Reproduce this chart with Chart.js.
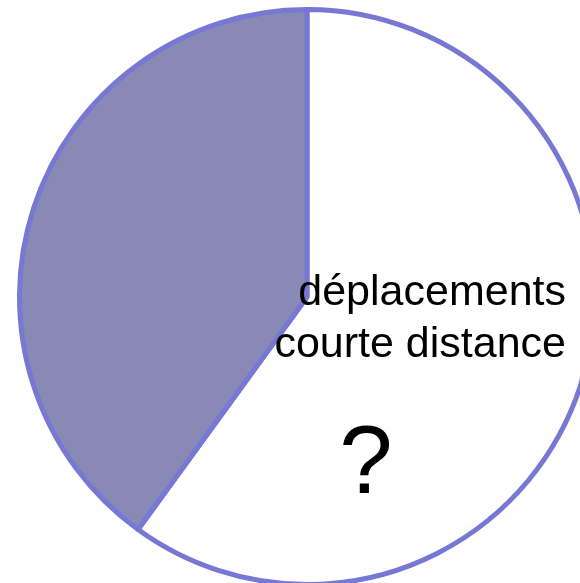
<!DOCTYPE html>
<html>
<head>
<meta charset="utf-8">
<script src="https://cdn.jsdelivr.net/npm/chart.js@4"></script>
<style>
    html, body { margin: 0; padding: 0; background: #ffffff; overflow: hidden; }
    #wrap { position: absolute; left: 0; top: 0; width: 614px; height: 594px; }
</style>
</head>
<body>
<div id="wrap"><canvas id="pieChart"></canvas></div>
<script>
// data
const categories = ['déplacements courte distance', ''];
const shares = [60, 40];
const labelLines = ['déplacements', 'courte distance'];
const valueText = '?';

const sliceColors = ['#ffffff', '#8889b4'];
const edgeColor = '#7777d4';

// text inside the white slice, placed from the arc centre
const sliceText = {
    id: 'sliceText',
    afterDraw(chart) {
        const arc = chart.getDatasetMeta(0).data[0];
        if (!arc) return;
        const ctx = chart.ctx;
        ctx.save();
        ctx.fillStyle = '#000000';
        ctx.textBaseline = 'alphabetic';
        ctx.font = '43px "Liberation Sans", Arial, sans-serif';
        ctx.textAlign = 'right';
        ctx.fillText(labelLines[0], arc.x + 259, arc.y + 8);
        ctx.fillText(labelLines[1], arc.x + 259, arc.y + 60);
        ctx.font = '96px "Liberation Sans", Arial, sans-serif';
        ctx.textAlign = 'center';
        ctx.fillText(valueText, arc.x + 59, arc.y + 196);
        ctx.restore();
    }
};

const ctx = document.getElementById('pieChart').getContext('2d');
new Chart(ctx, {
    type: 'pie',
    data: {
        labels: categories,
        datasets: [{
            data: shares,
            backgroundColor: sliceColors,
            borderColor: edgeColor,
            borderWidth: 5
        }]
    },
    options: {
        responsive: true,
        maintainAspectRatio: false,
        animation: false,
        layout: { padding: { top: 7, bottom: 7, left: 17, right: 17 } },
        plugins: {
            legend: { display: false },
            tooltip: { enabled: false }
        }
    },
    plugins: [sliceText]
});
</script>
</body>
</html>
